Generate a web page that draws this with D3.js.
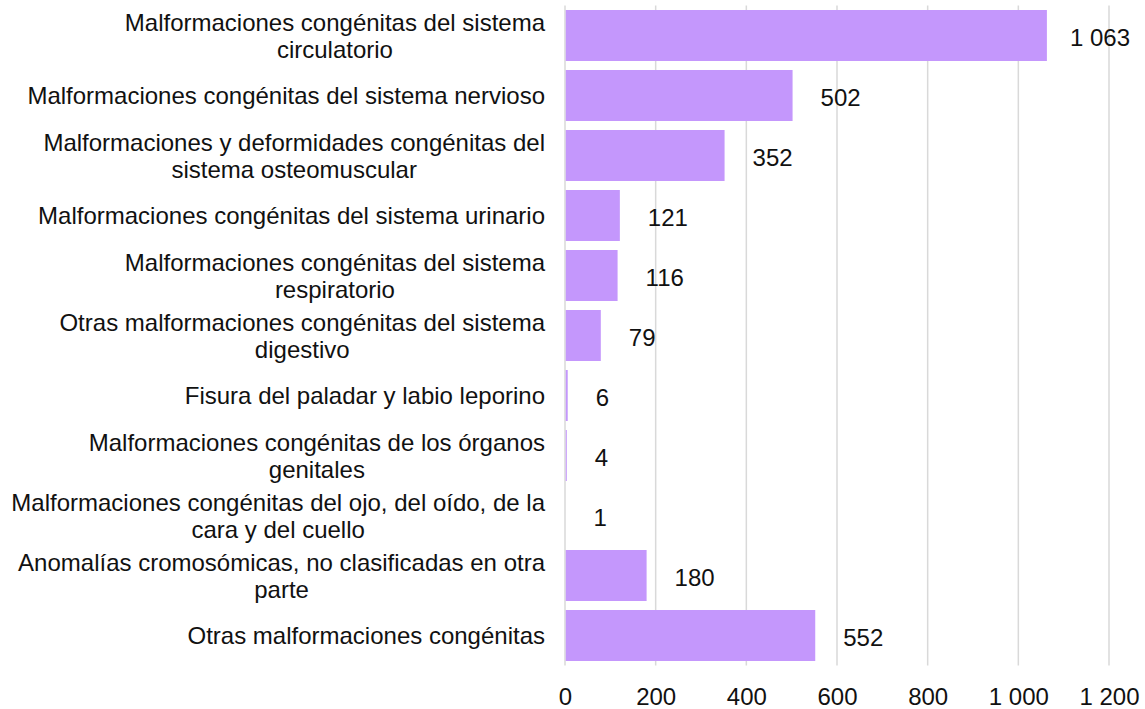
<!DOCTYPE html>
<html>
<head>
<meta charset="utf-8">
<script src="https://cdn.jsdelivr.net/npm/d3@7"></script>
<style>
  html, body { margin: 0; padding: 0; background: #fff; }
  svg { display: block; font-family: "Liberation Sans", Arial, sans-serif; }
</style>
</head>
<body>
<svg id="chart" width="1145" height="709"></svg>
<script>
// Causes (line breaks marked with \n)
const categories = [
  "Malformaciones congénitas del sistema\ncirculatorio",
  "Malformaciones congénitas del sistema nervioso",
  "Malformaciones y deformidades congénitas del\nsistema osteomuscular",
  "Malformaciones congénitas del sistema urinario",
  "Malformaciones congénitas del sistema\nrespiratorio",
  "Otras malformaciones congénitas del sistema\ndigestivo",
  "Fisura del paladar y labio leporino",
  "Malformaciones congénitas de los órganos\ngenitales",
  "Malformaciones congénitas del ojo, del oído, de la\ncara y del cuello",
  "Anomalías cromosómicas, no clasificadas en otra\nparte",
  "Otras malformaciones congénitas"
];
const values = [1063, 502, 352, 121, 116, 79, 6, 4, 1, 180, 552];
const xTicks = [0, 200, 400, 600, 800, 1000, 1200];

const fmt = v => d3.format(",")(v).replace(/,/g, " ");

const svg = d3.select("#chart");
const plotLeft = 565, plotRight = 1109, plotTop = 5.5, plotBottom = 665.5;
const fontSize = 24;
const textColor = "#111";

const x = d3.scaleLinear().domain([0, 1200]).range([plotLeft, plotRight]);
const y = d3.scaleBand().domain(d3.range(categories.length))
  .range([plotTop, plotBottom]).paddingInner(0.15).paddingOuter(0.075);

// vertical gridlines
svg.append("g")
  .selectAll("line").data(xTicks).join("line")
  .attr("x1", d => x(d)).attr("x2", d => x(d))
  .attr("y1", plotTop).attr("y2", plotBottom)
  .attr("stroke", "#d9d9d9").attr("stroke-width", 1.5);

// bars
svg.append("g")
  .selectAll("rect").data(values).join("rect")
  .attr("x", x(0) + 0.75)
  .attr("y", (d, i) => y(i))
  .attr("width", d => Math.max(0, x(d) - x(0) - 0.75))
  .attr("height", y.bandwidth())
  .attr("fill", "#c497fc");

// value labels, kept inside the chart's right edge
svg.append("g")
  .selectAll("text").data(values).join("text")
  .attr("y", (d, i) => y(i) + y.bandwidth() / 2 + 10)
  .attr("font-size", fontSize)
  .attr("fill", textColor)
  .text(d => fmt(d))
  .attr("x", function (d) {
    const w = this.getComputedTextLength();
    return Math.min(x(d) + 28, 1130 - w);
  });

// x axis tick labels
const xAxis = d3.axisBottom(x).tickValues(xTicks).tickSize(0).tickPadding(0)
  .tickFormat(fmt);
const gx = svg.append("g").attr("transform", "translate(0,705)").call(xAxis);
gx.select(".domain").remove();
gx.selectAll("text")
  .attr("font-size", fontSize)
  .attr("font-family", "Liberation Sans, Arial, sans-serif")
  .attr("fill", textColor)
  .attr("dy", 0)
  .attr("y", 0);

// category labels: lines centred within a right-aligned block
const labelRight = 545;
const lineH = 27;
const gy = svg.append("g");
categories.forEach((c, i) => {
  const lines = c.split("\n");
  const t = gy.append("text")
    .attr("font-size", fontSize)
    .attr("fill", textColor)
    .attr("text-anchor", "middle");
  const cy = y(i) + y.bandwidth() / 2;
  const firstBase = cy - (lines.length - 1) * lineH / 2 + fontSize * 0.36;
  const spans = lines.map((l, k) => t.append("tspan")
    .attr("y", firstBase + k * lineH).text(l));
  const widths = spans.map(s => s.node().getComputedTextLength());
  const bw = d3.max(widths);
  spans.forEach(s => s.attr("x", labelRight - bw / 2));
});
</script>
</body>
</html>
